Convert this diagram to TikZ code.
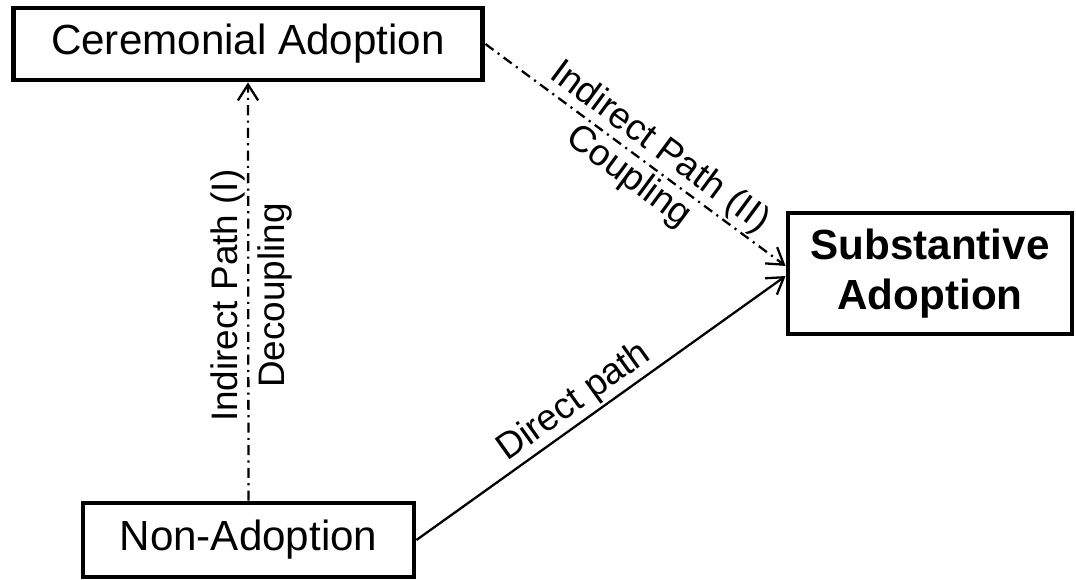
\documentclass[tikz,border=0pt]{standalone}
\usepackage{fontspec}
\setmainfont{Liberation Sans}
\usetikzlibrary{arrows.meta,positioning}
\tikzstyle{box}     =[rectangle, draw, line width=2.8pt, inner sep=0pt,
                      font=\fontsize{24}{28.5}\selectfont, align=center]
\tikzstyle{connect} =[line width=1.3pt,
                      -{Straight Barb[length=9pt,width=11.5pt,line width=1.3pt]}]
\tikzstyle{indirect}=[connect, dash pattern=on 5.7pt off 3pt on 1.2pt off 3pt]
\tikzstyle{pathlabel}=[inner sep=1pt, font=\fontsize{21}{24}\selectfont]

\begin{document}
\begin{tikzpicture}[x=0.02cm, y=-0.02cm]
    \useasboundingbox (0,0) rectangle (1076,579);
    % boxes
    \node (cer) [box, minimum width=9.4cm, minimum height=1.44cm]
        at (248,44) {Ceremonial Adoption};
    \node (sub) [box, minimum width=5.68cm, minimum height=2.42cm,
        font=\fontsize{24}{28.5}\selectfont\bfseries]
        at (930,273.5) {Substantive\\Adoption};
    \node (non) [box, minimum width=6.62cm, minimum height=1.48cm]
        at (248.5,540) {Non-Adoption};
    % paths
    \draw[indirect] (non.north) to
        node[pathlabel, rotate=90, anchor=south, pos=0.49] {Indirect Path (I)}
        node[pathlabel, rotate=90, anchor=north, pos=0.49, inner sep=5pt] {Decoupling}
        (cer.south);
    \draw[indirect] (cer.east) to
        node[pathlabel, sloped, above, pos=0.54] {Indirect Path (II)}
        node[pathlabel, sloped, below, pos=0.52, inner sep=2pt] {Coupling} (sub.177.5);
    \draw[connect] (non.east) to
        node[pathlabel, sloped, above, pos=0.46] {Direct path} (sub.181);
\end{tikzpicture}
\end{document}
